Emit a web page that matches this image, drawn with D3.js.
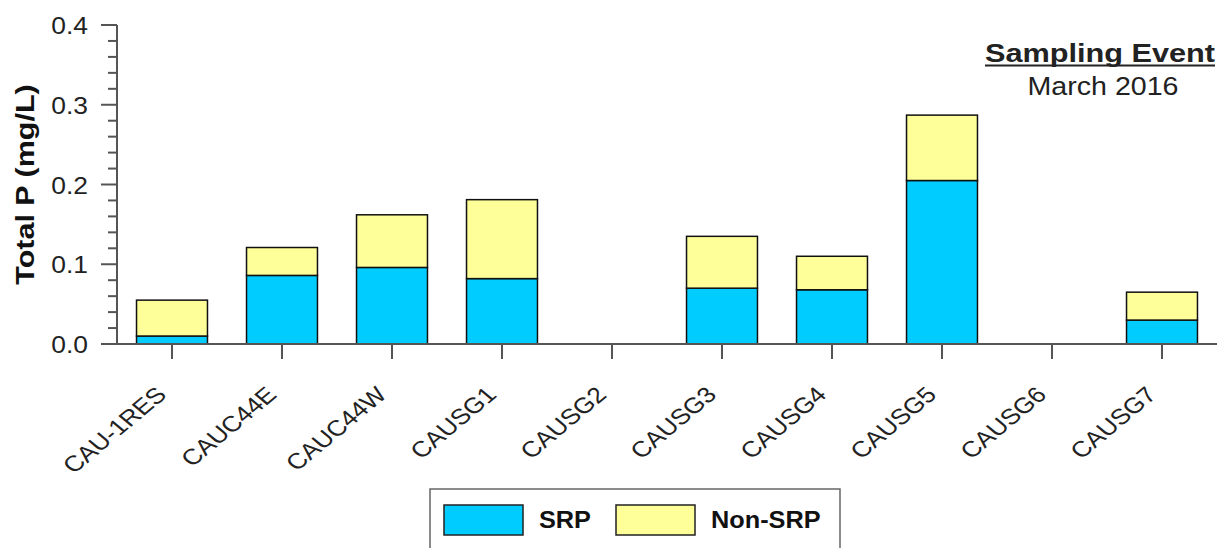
<!DOCTYPE html>
<html>
<head>
<meta charset="utf-8">
<script src="https://cdn.jsdelivr.net/npm/d3@7"></script>
<style>
  html, body { margin: 0; padding: 0; background: #fff; }
  svg { display: block; font-family: "Liberation Sans", Arial, sans-serif; }
</style>
</head>
<body>
<svg id="chart" width="1225" height="548"></svg>
<script>
const categories = ["CAU-1RES", "CAUC44E", "CAUC44W", "CAUSG1", "CAUSG2", "CAUSG3", "CAUSG4", "CAUSG5", "CAUSG6", "CAUSG7"];
const srp    = [0.010, 0.086, 0.096, 0.082, 0, 0.070, 0.068, 0.205, 0, 0.030];
const nonSrp = [0.045, 0.035, 0.066, 0.099, 0, 0.065, 0.042, 0.082, 0, 0.035];
const yTicks = [0.0, 0.1, 0.2, 0.3, 0.4];
const seriesNames = ["SRP", "Non-SRP"];
const seriesColors = ["#00CCFF", "#FFFF99"];
const titleLines = ["Sampling Event", "March 2016"];
const yLabel = "Total P (mg/L)";

const svg = d3.select("#chart");
const SX = 1.1; // horizontal text stretch of the original
const pLeft = 117, pRight = 1217, pTop = 25, pBottom = 344;

const x = d3.scaleBand().domain(categories).range([pLeft, pRight]).paddingInner(0.355).paddingOuter(0.1775);
const y = d3.scaleLinear().domain([0, 0.4]).range([pBottom, pTop]);

// stacked data
const rows = categories.map((c, i) => ({cat: c, SRP: srp[i], "Non-SRP": nonSrp[i]}));
const stack = d3.stack().keys(seriesNames)(rows);

const g = svg.append("g");
stack.forEach((layer, li) => {
  g.append("g").selectAll("rect").data(layer.filter(d => d[1] - d[0] > 0)).join("rect")
    .attr("x", d => x(d.data.cat))
    .attr("width", x.bandwidth())
    .attr("y", d => y(d[1]))
    .attr("height", d => y(d[0]) - y(d[1]))
    .attr("fill", seriesColors[li])
    .attr("stroke", "#111")
    .attr("stroke-width", 1.5);
});

// y axis
const axisColor = "#555";
const yAxis = svg.append("g");
yAxis.append("line").attr("x1", pLeft).attr("x2", pLeft).attr("y1", y(0.4)).attr("y2", y(0))
  .attr("stroke", axisColor).attr("stroke-width", 2);
d3.range(0, 21).forEach(k => {
  const v = k * 0.02;
  const major = k % 5 === 0;
  yAxis.append("line").attr("x1", pLeft - (major ? 16 : 9)).attr("x2", pLeft)
    .attr("y1", y(v)).attr("y2", y(v)).attr("stroke", axisColor).attr("stroke-width", 2);
});
yTicks.forEach(v => {
  yAxis.append("text")
    .attr("transform", `translate(${pLeft - 29},${y(v) + 9}) scale(${SX},1)`)
    .attr("text-anchor", "end").attr("font-size", 24).attr("fill", "#222")
    .text(d3.format(".1f")(v));
});
svg.append("text")
  .attr("transform", `translate(34,${(pTop + pBottom) / 2}) rotate(-90) scale(1.22,1)`)
  .attr("text-anchor", "middle").attr("font-size", 25).attr("font-weight", "bold").attr("fill", "#111")
  .text(yLabel);

// x axis
const xAxis = svg.append("g");
xAxis.append("line").attr("x1", pLeft).attr("x2", pRight).attr("y1", pBottom).attr("y2", pBottom)
  .attr("stroke", axisColor).attr("stroke-width", 2);
categories.forEach(c => {
  const cx = x(c) + x.bandwidth() / 2;
  xAxis.append("line").attr("x1", cx).attr("x2", cx).attr("y1", pBottom).attr("y2", pBottom + 15)
    .attr("stroke", axisColor).attr("stroke-width", 2);
  xAxis.append("text")
    .attr("transform", `translate(${cx - 4},${pBottom + 52}) scale(1.2,1) rotate(-45)`)
    .attr("text-anchor", "end").attr("font-size", 22).attr("fill", "#222")
    .text(c);
});

// title
svg.append("text")
  .attr("transform", `translate(1100,62) scale(1.18,1)`)
  .attr("text-anchor", "middle").attr("font-size", 26).attr("font-weight", "bold").attr("fill", "#222")
  .text(titleLines[0]);
svg.append("line").attr("x1", 985).attr("x2", 1215).attr("y1", 65.5).attr("y2", 65.5)
  .attr("stroke", "#222").attr("stroke-width", 2);
svg.append("text")
  .attr("transform", `translate(1103,95) scale(${SX},1)`)
  .attr("text-anchor", "middle").attr("font-size", 26).attr("fill", "#222")
  .text(titleLines[1]);

// legend
const lg = svg.append("g");
lg.append("rect").attr("x", 430).attr("y", 489).attr("width", 410).attr("height", 80)
  .attr("fill", "none").attr("stroke", "#666").attr("stroke-width", 1.5);
const legX = [444, 616];
seriesNames.forEach((s, i) => {
  lg.append("rect").attr("x", legX[i]).attr("y", 505).attr("width", 79).attr("height", 30)
    .attr("fill", seriesColors[i]).attr("stroke", "#222").attr("stroke-width", 1.5);
  lg.append("text")
    .attr("transform", `translate(${legX[i] + 95},528) scale(${SX},1)`)
    .attr("font-size", 23).attr("font-weight", "bold").attr("fill", "#111")
    .text(s);
});
</script>
</body>
</html>
